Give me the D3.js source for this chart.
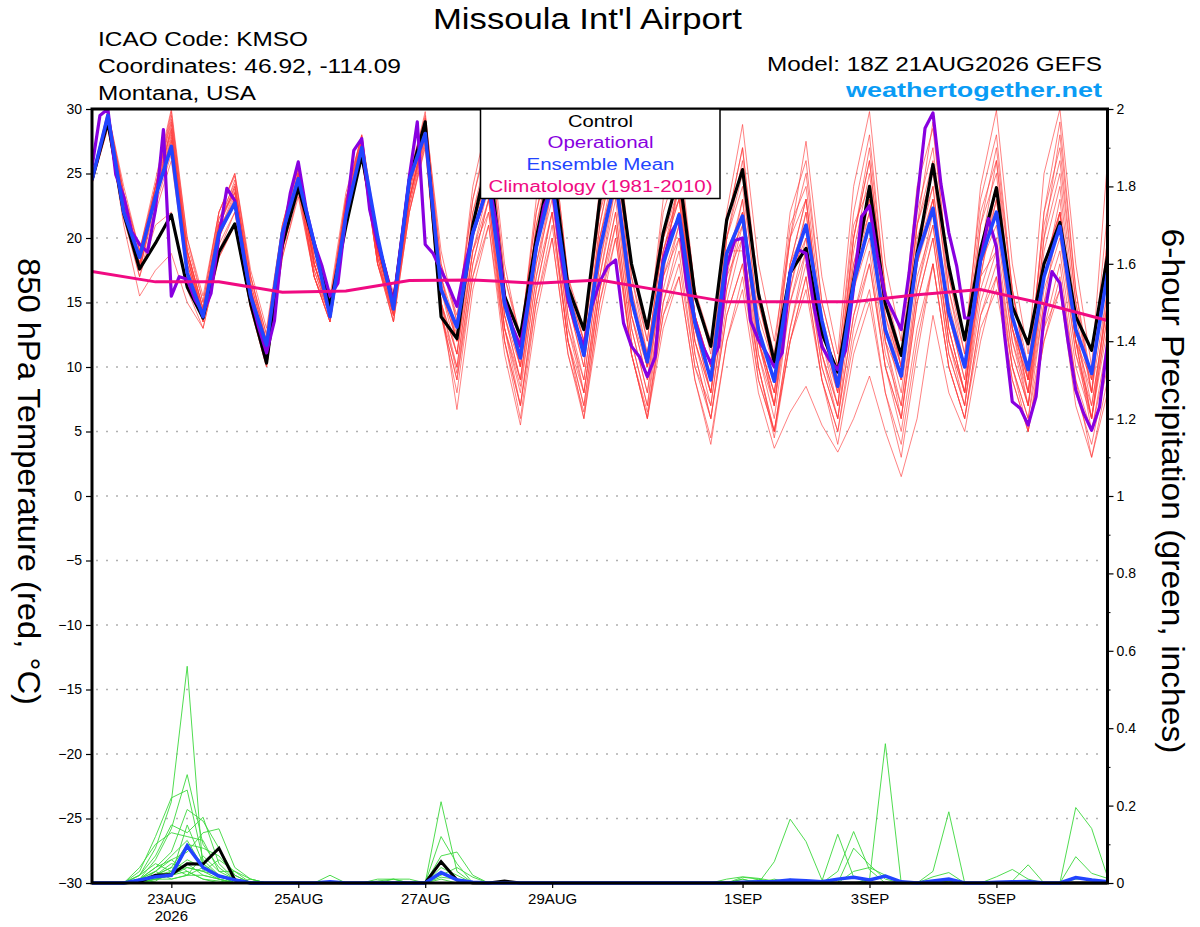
<!DOCTYPE html>
<html>
<head>
<meta charset="utf-8">
<script src="https://d3js.org/d3.v7.min.js"></script>
<style>
  body { margin: 0; background: #fff; }
  svg { display: block; font-family: "Liberation Sans", Arial, Helvetica, sans-serif; }
</style>
</head>
<body>
<div id="chart"></div>
<script>
// run start 21AUG2026 18Z, 16 days, 6-hourly (operational every 3 h)
const runStart = "2026-08-21T18:00:00Z";
const runHours = 384;

const tempTicks = [-30, -25, -20, -15, -10, -5, 0, 5, 10, 15, 20, 25, 30];
const precipTicks = [0, 0.2, 0.4, 0.6, 0.8, 1, 1.2, 1.4, 1.6, 1.8, 2];
const precipMinorTicks = [0.1, 0.3, 0.5, 0.7, 0.9, 1.1, 1.3, 1.5, 1.7, 1.9];
const dateTicks = ["2026-08-23", "2026-08-25", "2026-08-27", "2026-08-29", "2026-09-01", "2026-09-03", "2026-09-05"];

// 850 hPa temperature (C), 6-hourly
const controlTemp = [24.5, 29.0,21.9,17.6,19.6, 21.8,16.2,13.8,18.9, 21.1,14.9,10.3,19.5, 23.9,19.6,14.7,20.9,
  26.4,19.8,14.9,24.5, 29.0,13.9,12.2,21.0, 26.5,15.5,12.4,20.0, 26.0,16.2,12.9,22.9, 27.0,18.0,13.0,20.4,
  25.0,15.5,11.6,21.4, 25.3,15.7,10.4,17.3, 19.2,12.6,9.6,16.7, 24.0,14.9,10.9,18.8, 25.7,17.8,12.1,19.1,
  23.9,14.7,11.8,18.0, 21.2,13.9,11.3,18.6];

const meanTemp = [24.5, 29.5,22.0,18.5,23.2, 27.1,17.3,13.9,20.4, 22.7,15.5,11.7,20.4, 24.6,19.6,13.9,21.7,
  27.0,20.1,14.5,24.5, 28.1,16.0,13.1,20.4, 24.2,14.9,10.7,19.3, 24.3,15.7,10.9,19.1, 24.6,15.2,10.4,18.0,
  21.8,13.4,9.0,18.8, 21.7,12.9,8.9,17.3, 21.0,13.6,8.5,16.5, 21.1,12.9,9.3,18.6, 22.3,14.2,10.0,18.3,
  22.0,13.9,9.8,17.0, 20.9,12.9,9.5,17.3];

// operational run, 3-hourly
const operTemp = [25.5,29.5,30.0,24.9,23.2,20.5,19.5,18.9,22.2,28.4,15.5,17.0,16.8,15.2,14.2,15.7,
  20.1,23.85,22.9,19.1,15.5,13.1,11.1,13.6,19.8,23.5,25.9,22.2,19.6,17.8,15.5,16.5,
  21.7,26.8,27.7,22.2,19.6,17.5,14.9,19.8,24.75,29.0,19.5,18.8,17.5,16.2,14.7,17.8,
  20.4,22.2,24.5,21.0,15.2,13.1,11.6,15.2,19.3,22.5,24.0,19.1,15.2,13.1,11.6,14.7,
  16.6,17.8,18.3,13.4,11.6,10.8,9.25,10.8,18.3,20.4,21.5,16.2,13.6,11.6,10.3,11.6,
  17.8,19.8,20.0,13.6,12.1,11.1,10.0,11.1,17.3,19.1,18.8,14.7,11.6,10.5,9.8,11.3,
  16.2,21.65,22.5,18.55,15.45,14.2,12.9,17.3,22.9,28.5,29.7,24.2,20.4,17.8,13.8,13.8,
  18.3,21.5,19.3,12.6,7.3,6.8,5.5,7.7,13.9,17.4,16.5,12.1,8.2,6.4,5.1,6.9,11.8];

// climatology 1981-2010, one value per day at 18Z
const climTemp = [17.4, 16.6, 16.6, 15.8, 15.9, 16.7, 16.75, 16.5, 16.75, 15.9, 15.05, 15.05, 15.05, 15.6, 16.0, 14.9, 13.6];

// ensemble members, 6-hourly
const tempMembers = [
  [24.8, 29.5,23,18,24, 28.5,19,14.5,21, 24,17,12,20, 25,18,14,23, 27.5,19,15,24, 29,17,12,22, 27,16,10,20, 26,15,11,21, 27,16,10,19, 24,14,9,20, 25,13,7,18, 23,13,8,20, 26,15,10,21, 25,16,11,22, 26,16,9,22, 27,15,8,20],
  [24.3, 29,22,17,22, 26,17,13.5,19, 22,15,10.5,19, 24,17,13.5,21, 26.5,18,14,22, 27.5,14,8,17, 22,12,7,15, 21,12,8,16, 22,12,7,15, 19,10,6,14, 18,9,5,12, 17,9,5,12, 16,8,3,11, 18,10,6,14, 17,10,6,13, 16,8,4,10],
  [24.6, 29.3,23,18.5,23, 27,18,14,20, 23,15,11,20, 24.5,17,14,22, 27,18,14.5,23, 28,14,9,18, 23,13,8,17, 22,12,7,16, 21,11,6.5,14, 17,9,4.5,12, 16,8,3.7,6.5, 8.5,5.5,3.4,6, 9.3,5,1.5,6, 14,8,5,12, 17,9,5,12, 16,7,3,9],
  [24.5, 29.8,24,19,24, 29.5,20,15,22, 25,17,12.5,21, 25.5,19,15,23, 28,20,15.5,25, 29.5,19,13.5,24, 29.5,18,12,23, 28,17,12,24, 29,18,12,23, 27,16,11,22, 28.8,18,12,20, 27.5,17,11,24, 29.8,18,12,24, 28.5,17,11,24, 29.9,18,11,25, 30,18,10,26],
  [24.5, 29.4,22.5,18,23, 27.5,18,14,20.5, 23,16,11.5,20, 24.5,18,14,22, 27,19,14.5,24, 28.5,16,13,20, 24,14,10,19, 25,15,11,19, 25,15,10,18, 22,13,9,18, 22,12,8,16, 21,12,8,16, 21,12,9,18, 22,14,10,18, 22,13,9,17, 21,12,9,17],
  [24.9, 28.8,22,17.5,24, 29.8,19,14,21, 24.5,16,10.5,20, 25.8,18,14.5,23, 27.8,19,14,24, 28.8,15,11,21, 26,14,9,18, 23,13,9,18, 24,14,10,17, 20,12,8,18, 23,12,7,15, 19,11,7,17, 22,12,6,16, 21,12,8,18, 24,14,8,19, 24,13,6,14],
  [24.2, 28.5,21.5,17,21, 22,16,13,18.5, 21,14.5,10,18.5, 23.5,17,13.5,21, 26.3,18,13.5,22, 27,14,10,19, 22,13,8.5,17, 24,13,8,17, 23,13,8,16, 21,11,6,15, 20,10,5,13, 18,10,6,14, 18,10,6,15, 20,11,7,16, 20,11,7,15, 19,10,6,13],
  [24.7, 29.6,23,18.5,23.5, 28,19,14.5,21.5, 23.5,16.5,12,20, 25,18.5,15,22.5, 27.2,19,15,23, 28.2,15,6.7,16, 21,12,6,15, 20,11,6.5,15, 20,11,6,14, 18,10,7,16, 21,12,8,17, 22,13,9,18, 23,14,10,19, 24,14,9,18, 21,12,8,17, 22,13,7,15],
  [24.4, 29,22.5,18,23, 27.8,18.5,14,21, 22.5,15.5,11,19.5, 24,17.5,14,21.5, 26.8,18.5,14,23, 27.8,16,12,21, 25,15,11,21, 27,16,12,22, 28,17,11,20, 23,14,10,20, 24,14,10,20, 25,15,10,21, 24,14,9,19, 23,13,8,17, 19,11,7,16, 20,11,6,14],
  [24.6, 29.2,22.5,17.5,23, 28.8,18.5,14,20.5, 23.5,16,11,19.5, 24.8,18,14,22, 27.4,18.5,13.5,23, 28.4,15,10,19, 24,13,7,16, 22,12,7,16, 22,12,7,17, 25,14,9,19, 19,10,5,12, 16,9,4,11, 15,8,4,12, 18,10,6,14, 18,10,6,15, 22,12,5,12],
  [24.5, 29.5,23,18,24, 29,19,14.5,21, 24,16,11.5,20, 25.2,18.5,14.5,22.5, 27.6,19,14.5,23.5, 29,17,13,22, 26,15,11,21, 26,15,10,20, 26,15,10,19, 23,13,8,18, 21,12,8,18, 23,13,8,19, 25,15,10,21, 26,15,10,21, 25,14,9,20, 25,14,8,19],
  [24.3, 28.7,22,17.5,22.5, 26.5,17.5,13.5,19.5, 22,15,10.5,19, 24,17,13.5,21.5, 26.6,18,14,22.5, 27.6,15,11,19, 23,13,9,18, 24,14,9,18, 25,14,9,17, 21,12,7,16, 22,11,6,15, 20,11,6,16, 20,11,7,17, 21,12,8,17, 23,13,8,17, 21,11,7,15],
  [24.8, 29.7,23.5,19,24, 29.2,19.5,15,22, 24.8,17,12.5,21, 25.6,19,15,23, 28,19.5,15.5,24.5, 29.8,18,13.5,23, 28,17,12.5,22, 27,16,12,22, 26,15,11,20, 25,14,9,20, 26,15,10,21, 24,14,9,20, 27,16,11,22, 27,16,10,21, 27,16,10,21, 26,15,9,18],
  [24.2, 28.9,21,15.5,17.5, 18.8,15,13,18.5, 21,14.5,10,18.5, 23.2,17,13.5,21, 26.2,18,13.5,22, 27.2,14,9,17, 21,11,5.5,14, 20,11,6,14, 20,11,6,13, 17,9,4,12, 17,9,5,13, 19,10,6,14, 19,10,5,13, 18,10,6,13, 16,9,5,12, 17,9,5,11],
  [24.6, 29.1,22.5,18,23, 27.2,18,14,20.5, 23.2,16,11.5,20, 24.6,18,14.5,22, 27.2,19,14.5,23, 28.6,16,11,20, 25,14,9,19, 25,14,8,17, 24,13,8,18, 24,13,8,17, 20,11,7,16, 22,12,7,17, 23,13,8,18, 23,13,8,18, 22,12,7,17, 23,12,6,15],
  [24.7, 29.9,23.5,18.5,24, 28.2,19,14.5,21.5, 24.2,16.5,12,20.5, 25.4,18.5,14.8,22.5, 27.6,19,14.8,24, 29.3,17,12,21, 27,15,10,20, 25,15,10,21, 27,16,11,20, 24,14,10,21, 27,15,10,20, 23,13,9,20, 26,15,9,20, 24,13,8,19, 26,14,8,20, 28,16,9,22],
  [24.4, 28.6,22,17.5,23, 27,17.5,13.5,20, 22.8,15.5,11,19.5, 24.2,17.5,13.8,21.5, 26.9,18.5,14.2,22.5, 28,15,9.5,18, 23,12,7,16, 22,12,6,15, 21,11,6,15, 20,11,6,14, 18,10,4.5,12, 17,9,5,13, 18,10,6,15, 20,11,7,15, 19,10,5,13, 18,9,3,8],
  [24.5, 29.3,22.5,18,23.5, 28.4,18.5,14,21, 23.8,16,11.5,20, 25,18,14.2,22.5, 27.4,19,14.5,23.5, 28.8,16,12,21, 26,15,10,20, 26,15,11,20, 25,14,9,18, 22,12,8,17, 23,12,7,17, 20,11,7,17, 21,12,7,16, 22,12,7,17, 24,13,7,18, 22,12,6,16],
  [24.6, 29.4,23,18.5,23.5, 27.6,18.5,14.2,21, 23.6,16.2,11.8,20, 24.7,18,14.2,22, 27.1,18.8,14.6,23, 28.3,16.5,12.5,21, 25,15,11.5,20, 25,15,11,20, 25,15,10,19, 23,14,10,19, 22,13,9,18, 21,13,9,18, 22,13,9,18, 23,14,9,18, 23,13,9,18, 22,12,8,16],
  [24.8, 29.7,23.5,19,24.5, 30,20,15.5,22, 25,17.5,13,21, 25.9,19,15.5,23.5, 27.9,19.5,15.8,24, 29.2,18,14,23, 28.5,17,12,22, 28,17,13,23, 28.5,17,12,22, 26,16,12,21, 27,16,11,22, 26,15,10,22, 28,16,10,21, 29,17,12,23, 28,16,9,22, 29,16,8,20]
];

// 6-hour precipitation (inches)
const controlPrecip = [0, 0,0,.003,.02, .022,.05,.049,.09, .008,0,0,0, 0,0,0,0, 0,0,0,0, 0,.055,.008,0, 0,.005,0,0,
  0,0,0,0, 0,0,0,0, 0,0,0,0, 0,0,0,0, 0,0,0,0, 0,0,0,0, 0,0,0,0, 0,0,0,0, 0,0,0,0];

const meanPrecip = [0, 0,0,.008,.016, .02,.096,.04,.018, .008,0,0,0, 0,0,.003,0, 0,0,0,0, 0,.027,.008,.002, 0,0,0,0,
  0,0,0,0, 0,0,0,0, 0,0,0,0, .002,.003,.004,.008, .006,.003,.01,.015, .008,.018,.003,0, .005,.01,0,0,
  .002,.003,.004,0, 0,.014,.008,.003];

const precipMembers = [
  [0, 0,0,.02,.09, .21,.56,.03,.01, 0,0,0,0, 0,0,0,0, 0,0,0,0, 0,.21,.03,0, 0,0,0,0, 0,0,0,0, 0,0,0,0, 0,0,0,0, 0,0,0,0, 0,0,0,0, 0,0,0,0, 0,0,0,0, 0,0,0,0, 0,0,0,0],
  [0, 0,0,.01,.06, .14,.28,.10,.04, .01,0,0,0, 0,0,.02,0, 0,0,0,0, 0,.12,.05,0, 0,0,0,0, 0,0,0,0, 0,0,0,0, 0,0,0,0, .01,0,0,0, 0,0,0,0, 0,0,0,0, 0,0,0,0, 0,0,0,0, 0,0,0,0],
  [0, 0,0,.03,.12, .22,.24,.06,.02, 0,0,0,0, 0,0,0,0, 0,.01,.01,0, 0,.07,.08,.02, 0,0,0,0, 0,0,0,0, 0,0,0,0, 0,0,0,0, .015,.01,0,0, 0,0,0,0, 0,0,0,0, 0,0,0,0, 0,0,0,0, 0,0,0,0],
  [0, 0,0,.02,.07, .15,.13,.17,.05, .01,0,0,0, 0,0,0,0, 0,0,0,0, 0,.04,.02,0, 0,0,0,0, 0,0,0,0, 0,0,0,0, 0,0,0,0, 0,0,.055,.165, .107,.008,0,0, 0,0,0,0, 0,0,0,0, 0,0,0,0, 0,0,0,0],
  [0, 0,0,.01,.04, .08,.19,.16,.09, .02,0,0,0, 0,0,0,0, 0,0,0,0, 0,.02,.04,.015, 0,0,0,0, 0,0,0,0, 0,0,0,0, 0,0,0,0, 0,0,0,0, 0,.005,.126,.015, 0,0,0,0, 0,0,0,0, 0,0,0,0, 0,0,0,0],
  [0, 0,0,.04,.10, .13,.12,.11,.03, .03,0,0,0, 0,0,0,0, 0,0,.01,.01, 0,.01,0,0, 0,0,0,0, 0,0,0,0, 0,0,0,0, 0,0,0,0, 0,0,0,0, 0,0,.03,.133, .034,0,0,0, 0,0,0,0, 0,0,0,0, 0,0,0,0],
  [0, 0,0,.01,.03, .06,.08,.13,.14, .04,.01,0,0, 0,0,0,0, 0,0,0,0, 0,0,0,0, 0,0,0,0, 0,0,0,0, 0,0,0,0, 0,0,0,0, 0,0,0,0, 0,0,0,.09, .047,.01,0,0, 0,0,0,0, 0,0,0,0, 0,0,0,0],
  [0, 0,0,0,.02, .04,.10,.09,.07, .02,0,0,0, 0,0,0,0, 0,0,0,0, 0,0,0,0, 0,0,0,0, 0,0,0,0, 0,0,0,0, 0,0,0,0, 0,0,0,0, 0,0,0,0, .008,.36,0,0, 0,0,0,0, 0,0,0,0, 0,0,0,0],
  [0, 0,0,.02,.05, .03,.06,.04,.02, .01,0,0,0, 0,0,0,0, 0,0,0,0, 0,0,0,0, 0,0,0,0, 0,0,0,0, 0,0,0,0, 0,0,0,0, 0,0,0,0, 0,0,0,.03, .04,.02,0,0, .03,.184,0,0, 0,0,0,0, 0,0,0,0],
  [0, 0,0,0,.01, .02,.15,.05,.02, 0,0,0,0, 0,0,0,0, 0,0,0,0, 0,0,0,0, 0,0,0,0, 0,0,0,0, 0,0,0,0, 0,0,0,0, 0,0,0,0, 0,0,0,0, 0,0,0,0, .016,.027,0,0, 0,0,0,0, 0,0,0,0],
  [0, 0,0,.01,.02, .05,.04,.03,.06, .03,.01,0,0, 0,0,0,0, 0,0,0,0, 0,0,0,0, 0,0,0,0, 0,0,0,0, 0,0,0,0, 0,0,0,0, 0,0,0,0, 0,0,0,0, 0,0,0,0, 0,0,0,0, .016,.035,.01,0, 0,0,0,0],
  [0, 0,0,0,.03, .01,.02,.07,.03, .01,0,0,0, 0,0,0,0, 0,0,0,0, 0,0,0,0, 0,0,0,0, 0,0,0,0, 0,0,0,0, 0,0,0,0, 0,0,0,0, 0,0,0,0, 0,0,0,0, 0,0,0,0, 0,.005,.047,0, 0,0,0,0],
  [0, 0,0,.01,.02, .03,.05,.02,.01, 0,0,0,0, 0,0,0,0, 0,0,0,0, 0,0,0,0, 0,0,0,0, 0,0,0,0, 0,0,0,0, 0,0,0,0, 0,0,0,0, 0,0,0,0, 0,0,0,0, 0,0,0,0, 0,0,0,0, 0,.195,.141,.016],
  [0, 0,0,0,.01, .02,.03,.01,.005, 0,0,0,0, 0,0,0,0, 0,0,0,0, 0,0,0,0, 0,0,0,0, 0,0,0,0, 0,0,0,0, 0,0,0,0, 0,0,0,0, 0,0,0,0, 0,0,0,0, 0,0,0,0, 0,0,0,0, 0,.068,.025,.012],
  [0, 0,0,.005,.01, .01,.02,.04,.02, 0,.01,0,0, 0,0,0,0, 0,0,0,0, 0,0,0,0, 0,0,0,0, 0,0,0,0, 0,0,0,0, 0,0,0,.01, .016,.012,.005,0, 0,0,0,0, 0,0,0,0, 0,0,0,0, 0,0,0,0, 0,0,0,0],
  [0, 0,0,0,.005, .03,.09,.05,.01, 0,0,0,0, 0,0,0,0, 0,.005,.01,0, 0,0,0,0, 0,.005,0,0, 0,0,0,0, 0,0,0,0, 0,0,0,0, 0,0,0,0, 0,0,0,0, 0,0,0,0, 0,0,0,0, 0,0,0,0, 0,0,0,0],
  [0, 0,0,.01,.04, .06,.03,.01,0, 0,0,0,0, 0,0,0,0, 0,0,0,0, 0,0,0,0, 0,0,0,0, 0,0,0,0, 0,0,0,0, 0,0,0,0, 0,.01,0,.01, 0,0,0,0, 0,0,0,0, 0,.005,0,0, 0,0,0,0, 0,0,0,0],
  [0, 0,0,0,.01, .02,.04,.03,.02, 0,0,0,0, 0,0,0,0, 0,0,0,0, 0,.015,.01,0, 0,0,0,0, 0,0,0,0, 0,0,0,0, 0,0,0,0, 0,0,0,0, 0,0,0,0, 0,0,0,0, 0,0,0,0, 0,0,0,0, 0,0,0,0],
  [0, 0,0,.01,.03, .07,.11,.04,.02, .01,0,0,0, 0,0,0,0, 0,0,0,0, 0,0,0,0, 0,0,0,0, 0,0,0,0, 0,0,0,0, 0,0,0,0, 0,0,0,0, 0,0,0,0, 0,0,0,0, 0,0,0,0, 0,0,0,0, 0,0,0,0],
  [0, 0,0,0,.02, .04,.02,.02,.01, 0,0,0,0, 0,0,0,0, 0,0,0,0, 0,0,0,0, 0,0,0,0, 0,0,0,0, 0,0,0,0, 0,0,0,0, .01,0,.01,0, 0,0,0,0, 0,0,0,0, 0,0,0,0, 0,0,0,0, 0,.01,.01,0]
];

function init() {
    const width = 1200;
    const height = 927;
    const left = 92, right = 1107.5, top = 109, bottom = 883;

    const t0 = new Date(runStart);
    const hour = 3600 * 1000;

    const svg = d3.select("#chart")
        .append("svg")
        .attr("width", width)
        .attr("height", height);

    // Scales
    const x = d3.scaleUtc()
        .domain([t0, new Date(+t0 + runHours * hour)])
        .range([left, right]);
    const yT = d3.scaleLinear().domain([-30, 30]).range([bottom, top]);
    const yP = d3.scaleLinear().domain([0, 2]).range([bottom, top]);

    svg.append("defs").append("clipPath")
        .attr("id", "plot-clip")
        .append("rect")
        .attr("x", left).attr("y", top)
        .attr("width", right - left).attr("height", bottom - top + 3);

    // Dotted grid lines
    svg.append("g")
        .selectAll("line")
        .data(tempTicks.filter(v => v > -30 && v < 30))
        .enter()
        .append("line")
        .attr("x1", left + 4).attr("x2", right)
        .attr("y1", d => yT(d)).attr("y2", d => yT(d))
        .attr("stroke", "#b0b0b0")
        .attr("stroke-width", 1.5)
        .attr("stroke-dasharray", "2,8");

    const plot = svg.append("g").attr("clip-path", "url(#plot-clip)");

    const line6 = scale => d3.line()
        .x((d, i) => x(new Date(+t0 + i * 6 * hour)))
        .y(d => scale(d));

    // Precipitation members and lines
    plot.append("g")
        .selectAll("path")
        .data(precipMembers)
        .enter()
        .append("path")
        .attr("d", line6(yP))
        .attr("fill", "none")
        .attr("stroke", "#3cd83c")
        .attr("stroke-width", 0.9);

    // Temperature members
    plot.append("g")
        .selectAll("path")
        .data(tempMembers)
        .enter()
        .append("path")
        .attr("d", line6(yT))
        .attr("fill", "none")
        .attr("stroke", "#ff3a3a")
        .attr("stroke-opacity", 0.8)
        .attr("stroke-width", 0.8);

    plot.append("path")
        .attr("d", line6(yP)(controlPrecip))
        .attr("fill", "none").attr("stroke", "#000").attr("stroke-width", 3);
    plot.append("path")
        .attr("d", line6(yP)(meanPrecip))
        .attr("fill", "none").attr("stroke", "#2244ff").attr("stroke-width", 3.5);

    plot.append("path")
        .attr("d", line6(yT)(controlTemp))
        .attr("fill", "none").attr("stroke", "#000").attr("stroke-width", 3.2)
        .attr("stroke-linejoin", "round");

    const line3 = d3.line()
        .x((d, i) => x(new Date(+t0 + i * 3 * hour)))
        .y(d => yT(d));
    plot.append("path")
        .attr("d", line3(operTemp))
        .attr("fill", "none").attr("stroke", "#8800e0").attr("stroke-width", 3.2)
        .attr("stroke-linejoin", "round");

    plot.append("path")
        .attr("d", line6(yT)(meanTemp))
        .attr("fill", "none").attr("stroke", "#2244ff").attr("stroke-width", 3.6)
        .attr("stroke-linejoin", "round");

    const lineDay = d3.line()
        .x((d, i) => x(new Date(+t0 + i * 24 * hour)))
        .y(d => yT(d));
    plot.append("path")
        .attr("d", lineDay(climTemp))
        .attr("fill", "none").attr("stroke", "#f00a82").attr("stroke-width", 3);

    // Axes
    const leftAxis = svg.append("g")
        .attr("transform", `translate(${left},0)`)
        .call(d3.axisLeft(yT).tickValues(tempTicks).tickSize(6).tickPadding(4));
    const rightAxis = svg.append("g")
        .attr("transform", `translate(${right},0)`)
        .call(d3.axisRight(yP).tickValues(precipTicks).tickSize(6).tickPadding(3)
            .tickFormat(d3.format("~g")));
    svg.append("g")
        .attr("transform", `translate(${right},0)`)
        .call(d3.axisRight(yP).tickValues(precipMinorTicks).tickSize(3).tickFormat(""))
        .select(".domain").remove();

    const dates = dateTicks.map(d => new Date(d + "T00:00:00Z"));
    const fmt = d3.utcFormat("%-d%b");
    const bottomAxis = svg.append("g")
        .attr("transform", `translate(0,${bottom})`)
        .call(d3.axisBottom(x).tickValues(dates).tickSize(5).tickPadding(5)
            .tickFormat(d => fmt(d).toUpperCase()));

    [leftAxis, rightAxis, bottomAxis].forEach(g => {
        g.select(".domain").remove();
        g.selectAll(".tick line").attr("stroke", "#000").attr("stroke-width", 1.2);
        g.selectAll("text").attr("fill", "#000").attr("font-family", "Liberation Sans, Arial, sans-serif");
    });
    leftAxis.selectAll("text").attr("font-size", 14);
    rightAxis.selectAll("text").attr("font-size", 14);
    bottomAxis.selectAll("text").attr("font-size", 15);

    svg.append("text")
        .attr("x", x(dates[0])).attr("y", 921)
        .attr("text-anchor", "middle")
        .attr("font-size", 15)
        .text("2026");

    // Frame
    svg.append("rect")
        .attr("x", left).attr("y", top)
        .attr("width", right - left).attr("height", bottom - top)
        .attr("fill", "none")
        .attr("stroke", "#000")
        .attr("stroke-width", 3);

    // Legend
    svg.append("rect")
        .attr("x", 480.5).attr("y", top)
        .attr("width", 239.5).attr("height", 89.5)
        .attr("fill", "#fff")
        .attr("stroke", "#000")
        .attr("stroke-width", 1.5);

    const legendItems = [
        { label: "Control", color: "#000", len: 65, y: 126.7 },
        { label: "Operational", color: "#8800e0", len: 106, y: 148.3 },
        { label: "Ensemble Mean", color: "#2244ff", len: 148, y: 170 },
        { label: "Climatology (1981-2010)", color: "#f00a82", len: 224, y: 191.7 }
    ];
    svg.append("g")
        .selectAll("text")
        .data(legendItems)
        .enter()
        .append("text")
        .attr("x", d => 600.5 - d.len / 2)
        .attr("y", d => d.y)
        .attr("font-size", 16)
        .attr("fill", d => d.color)
        .attr("textLength", d => d.len)
        .attr("lengthAdjust", "spacingAndGlyphs")
        .text(d => d.label);

    // Header
    const header = [
        { t: "Missoula Int'l Airport", x: 433, y: 28.5, size: 29, len: 309, color: "#000", bold: false },
        { t: "ICAO Code: KMSO", x: 98, y: 46, size: 20, len: 210, color: "#000", bold: false },
        { t: "Coordinates: 46.92, -114.09", x: 98, y: 73, size: 20, len: 303, color: "#000", bold: false },
        { t: "Montana, USA", x: 98, y: 99.5, size: 20, len: 158, color: "#000", bold: false },
        { t: "Model: 18Z 21AUG2026 GEFS", x: 767, y: 71, size: 20, len: 335, color: "#000", bold: false },
        { t: "weathertogether.net", x: 846, y: 97, size: 21, len: 256, color: "#0a9cf5", bold: true }
    ];
    svg.append("g")
        .selectAll("text")
        .data(header)
        .enter()
        .append("text")
        .attr("x", d => d.x)
        .attr("y", d => d.y)
        .attr("font-size", d => d.size)
        .attr("font-weight", d => d.bold ? "bold" : "normal")
        .attr("fill", d => d.color)
        .attr("textLength", d => d.len)
        .attr("lengthAdjust", "spacingAndGlyphs")
        .text(d => d.t);

    // Axis titles, reading top to bottom
    svg.append("text")
        .attr("transform", "translate(18,481.5) rotate(90)")
        .attr("x", -223.5)
        .attr("font-size", 32)
        .attr("textLength", 447)
        .attr("lengthAdjust", "spacingAndGlyphs")
        .text("850 hPa Temperature (red, °C)");

    svg.append("text")
        .attr("transform", "translate(1162,491) rotate(90)")
        .attr("x", -262.5)
        .attr("font-size", 32)
        .attr("textLength", 525)
        .attr("lengthAdjust", "spacingAndGlyphs")
        .text("6-hour Precipitation (green, inches)");
}

window.onload = init;
</script>
</body>
</html>
